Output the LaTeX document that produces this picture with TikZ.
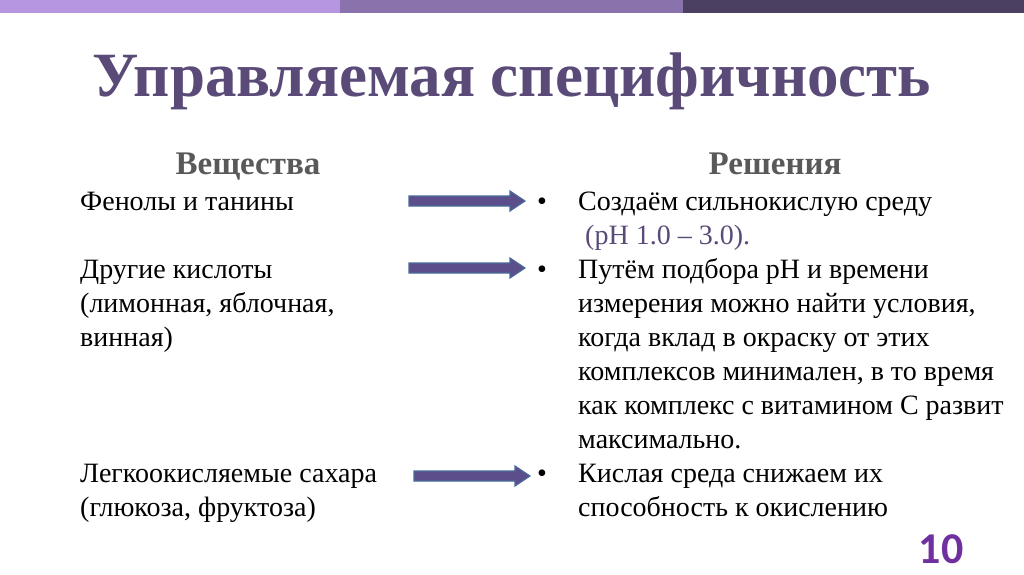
\documentclass[tikz,border=0pt]{standalone}
\usepackage{fontspec}
\setmainfont{Liberation Serif}
\newfontfamily\numfont{Carlito}
\definecolor{barA}{HTML}{B696DE}
\definecolor{barB}{HTML}{8A72AC}
\definecolor{barC}{HTML}{4B3F62}
\definecolor{ttl}{HTML}{5A4A78}
\definecolor{hdr}{HTML}{595959}
\definecolor{arrfill}{HTML}{5B4E8A}
\definecolor{arrline}{HTML}{4A6A9A}
\definecolor{num}{HTML}{7030A0}
\begin{document}
\begin{tikzpicture}[x=1pt,y=-1pt,
  txt/.style={anchor=base west,inner sep=0pt,font=\fontsize{28}{32}\selectfont},
  hd/.style={anchor=base,inner sep=0pt,font=\fontsize{33}{38}\selectfont\bfseries,text=hdr},
  blk/.style={draw=arrline,fill=arrfill,line width=1.2pt,line join=miter}]
\useasboundingbox (0,0) rectangle (1024,574);
\fill[barA] (0,0) rectangle (340,13);
\fill[barB] (340,0) rectangle (683,13);
\fill[barC] (683,0) rectangle (1024,13);
\node[anchor=base,inner sep=0pt,font=\fontsize{63}{70}\selectfont\bfseries,text=ttl] (title) at (512,96) {Управляемая специфичность};
\node[hd] (h1) at (248,174) {Вещества};
\node[hd] (h2) at (775,174) {Решения};
\node[txt] (l1) at (80,210) {Фенолы и танины};
\node[txt] (l2) at (80,278) {Другие кислоты};
\node[txt] (l3) at (80,312) {(лимонная, яблочная,};
\node[txt] (l4) at (80,346) {винная)};
\node[txt] (l5) at (80,482) {Легкоокисляемые сахара};
\node[txt] (l6) at (80,516) {(глюкоза, фруктоза)};
\foreach \x/\y in {409/201,409/268,414/476}
  \draw[blk] (\x,\y-5) -- (\x+101,\y-5) -- (\x+101,\y-10) -- (\x+116,\y) -- (\x+101,\y+10) -- (\x+101,\y+5) -- (\x,\y+5) -- cycle;
\foreach \y/\n in {210/b1,278/b2,482/b3} \node[txt] (\n) at (537,\y) {•};
\node[txt] (r1) at (578,210) {Создаём сильнокислую среду};
\node[txt,text=ttl] (r2) at (585,244) {(pH 1.0 – 3.0).};
\node[txt] (r3) at (578,278) {Путём подбора рН и времени};
\node[txt] (r4) at (578,312) {измерения можно найти условия,};
\node[txt] (r5) at (578,346) {когда вклад в окраску от этих};
\node[txt] (r6) at (578,380) {комплексов минимален, в то время};
\node[txt] (r7) at (578,414) {как комплекс с витамином С развит};
\node[txt] (r8) at (578,448) {максимально.};
\node[txt] (r9) at (578,482) {Кислая среда снижаем их};
\node[txt] (r10) at (578,516) {способность к окислению};
\node[anchor=base,inner sep=0pt,font=\numfont\fontsize{44}{50}\selectfont\bfseries,text=num] (n) at (941,563) {10};
\end{tikzpicture}
\end{document}
